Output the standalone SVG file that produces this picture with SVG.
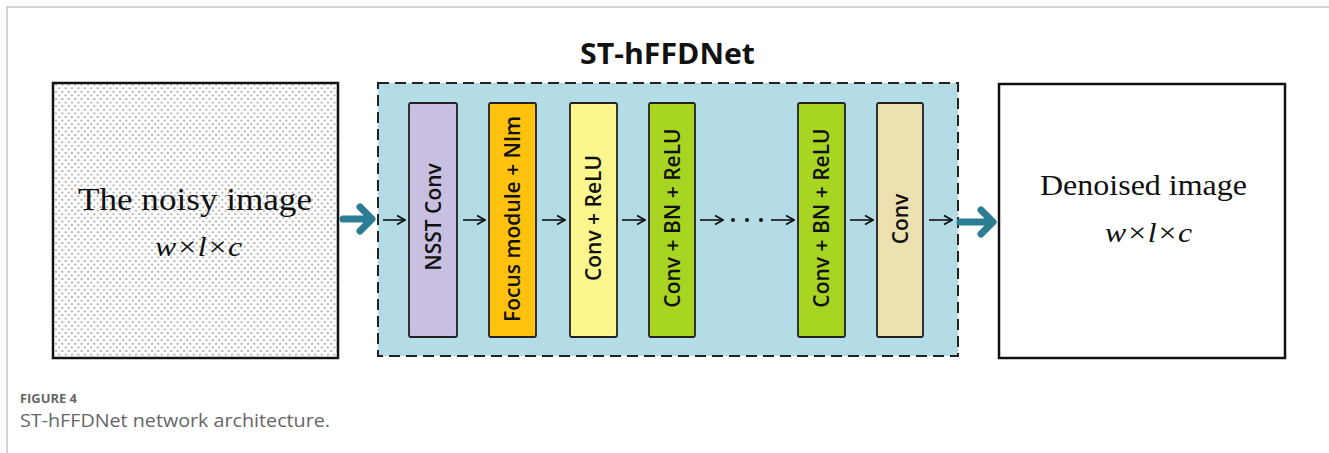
<svg xmlns="http://www.w3.org/2000/svg" width="1329" height="453" viewBox="0 0 1329 453">
  <style>
    .frame { fill: none; stroke: #c6c6c6; stroke-width: 1.5; }
    .imgbox { stroke: #111; stroke-width: 2.5; }
    .serif { font-family: "Liberation Serif", "Times New Roman", serif; fill: #111; }
    .layer { stroke: #222; stroke-width: 1.8; }
    .layer-label { font-family: "Open Sans", "Noto Sans", sans-serif; font-weight: 600; font-size: 21px; fill: #111; text-anchor: middle; }
    .small-arrow { stroke: #111; stroke-width: 1.6; fill: none; marker-end: url(#chev); }
    .big-arrow { stroke: #2b7d93; stroke-width: 7; fill: none; stroke-linecap: round; stroke-linejoin: round; }
    .caption { font-family: "Open Sans", "Noto Sans", sans-serif; fill: #666; }
  </style>
  <defs>
    <!-- halftone grain for the noisy input -->
    <pattern id="grain" width="6.4" height="7.2" patternUnits="userSpaceOnUse">
      <rect width="6.4" height="7.2" fill="#fdfdfd"/>
      <circle cx="1.6" cy="1.8" r="0.95" fill="#929292"/>
      <circle cx="4.8" cy="5.4" r="0.95" fill="#929292"/>
    </pattern>
    <marker id="chev" viewBox="0 0 12 12" refX="11" refY="6" markerWidth="12" markerHeight="12" markerUnits="userSpaceOnUse" orient="auto">
      <path d="M3 1.5 L11 6 L3 10.5" fill="none" stroke="#111" stroke-width="1.7"/>
    </marker>
  </defs>

  <rect width="1329" height="453" fill="#ffffff"/>
  <!-- page frame -->
  <path class="frame" d="M7 453 V7 H1329"/>

  <!-- input -->
  <g id="noisy-image">
    <rect class="imgbox" x="53" y="83" width="285" height="275" fill="url(#grain)"/>
    <text class="serif" x="78" y="210" font-size="31" textLength="234" lengthAdjust="spacingAndGlyphs">The noisy image</text>
    <text class="serif" x="155" y="256" font-size="28" font-style="italic" textLength="87" lengthAdjust="spacingAndGlyphs">w×l×c</text>
  </g>

  <!-- network -->
  <g id="st-hffdnet">
    <text x="580" y="64" font-family="Open Sans, Noto Sans, sans-serif" font-weight="700" font-size="28" fill="#111" textLength="175" lengthAdjust="spacingAndGlyphs">ST-hFFDNet</text>
    <rect x="378" y="83" width="580" height="273" fill="#b3dce6" stroke="#222" stroke-width="2" stroke-dasharray="11 6"/>
  </g>

  <g id="nsst-conv">
    <rect class="layer" x="409" y="103" width="48" height="234" rx="2" fill="#c9c0e1"/>
    <text class="layer-label" transform="translate(433 217) rotate(-90)" y="7.5">NSST Conv</text>
  </g>
  <g id="focus-nlm">
    <rect class="layer" x="489" y="103" width="47" height="234" rx="2" fill="#ffc20e"/>
    <text class="layer-label" transform="translate(512.5 219) rotate(-90)" y="7.5">Focus module + Nlm</text>
  </g>
  <g id="conv-relu">
    <rect class="layer" x="570" y="103" width="47" height="234" rx="2" fill="#fbf68e"/>
    <text class="layer-label" transform="translate(593.5 218) rotate(-90)" y="7.5">Conv + ReLU</text>
  </g>
  <g id="conv-bn-relu-1">
    <rect class="layer" x="649" y="103" width="46" height="234" rx="2" fill="#a8d422"/>
    <text class="layer-label" transform="translate(672 218) rotate(-90)" y="7.5">Conv + BN + ReLU</text>
  </g>
  <g id="conv-bn-relu-n">
    <rect class="layer" x="798" y="103" width="47" height="234" rx="2" fill="#a8d422"/>
    <text class="layer-label" transform="translate(821.5 218) rotate(-90)" y="7.5">Conv + BN + ReLU</text>
  </g>
  <g id="conv-out">
    <rect class="layer" x="877" y="103" width="46" height="234" rx="2" fill="#ede0b1"/>
    <text class="layer-label" transform="translate(900 219) rotate(-90)" y="7.5">Conv</text>
  </g>

  <!-- output -->
  <g id="denoised-image">
    <rect class="imgbox" x="999" y="84" width="286" height="274" fill="#ffffff"/>
    <text class="serif" x="1040" y="195" font-size="30" textLength="207" lengthAdjust="spacingAndGlyphs">Denoised image</text>
    <text class="serif" x="1105" y="242" font-size="28" font-style="italic" textLength="87" lengthAdjust="spacingAndGlyphs">w×l×c</text>
  </g>

  <!-- connectors -->
  <g id="connectors">
    <path class="big-arrow" d="M343 219 H371 M360 207 L372 219 L360 231"/>
    <path class="big-arrow" d="M960 222 H992 M981 210 L993 222 L981 234"/>
    <line class="small-arrow" x1="383" y1="220" x2="405" y2="220"/>
    <line class="small-arrow" x1="463" y1="220" x2="485" y2="220"/>
    <line class="small-arrow" x1="542" y1="220" x2="565" y2="220"/>
    <line class="small-arrow" x1="622" y1="220" x2="645" y2="220"/>
    <line class="small-arrow" x1="700" y1="220" x2="723" y2="220"/>
    <circle cx="733" cy="220" r="2" fill="#111"/>
    <circle cx="747" cy="220" r="2" fill="#111"/>
    <circle cx="761" cy="220" r="2" fill="#111"/>
    <line class="small-arrow" x1="771" y1="220" x2="794" y2="220"/>
    <line class="small-arrow" x1="850" y1="220" x2="873" y2="220"/>
    <line class="small-arrow" x1="929" y1="220" x2="952" y2="220"/>
  </g>

  <!-- caption -->
  <text class="caption" x="20" y="403" font-size="13" font-weight="700" fill="#6a6a6a" textLength="57" lengthAdjust="spacingAndGlyphs">FIGURE 4</text>
  <text class="caption" x="20" y="427" font-size="18" fill="#6e6e6e" textLength="310" lengthAdjust="spacingAndGlyphs">ST-hFFDNet network architecture.</text>
</svg>
